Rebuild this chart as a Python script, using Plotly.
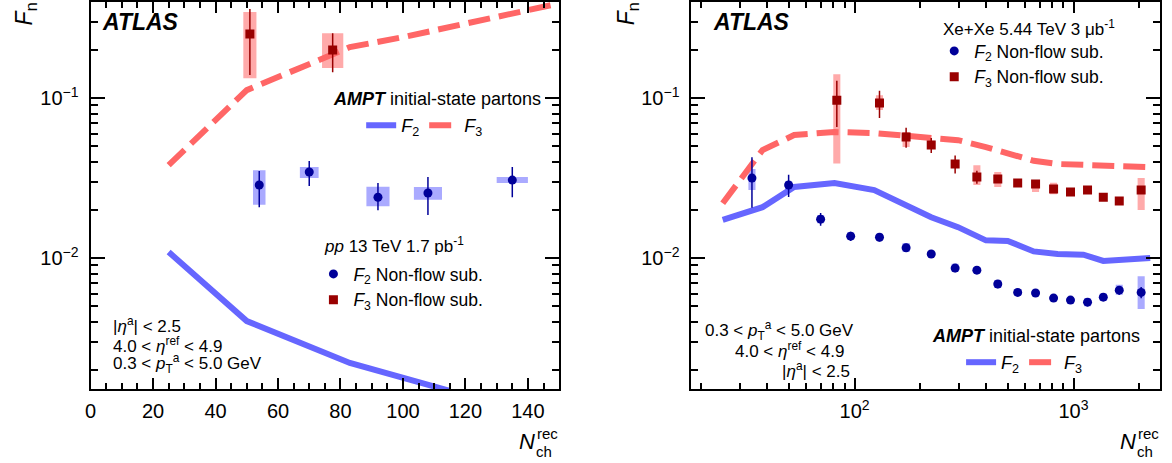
import numpy as np
import plotly.graph_objects as go

W, H = 1172, 463

# ---------------- data: left panel (pp 13 TeV) ----------------
pp_f2_x = [54, 70, 92, 108, 135]
pp_f2_y = [0.0286, 0.0345, 0.0240, 0.0255, 0.0307]
pp_f2_stat_up = [0.0064, 0.0059, 0.0054, 0.0066, 0.0063]
pp_f2_stat_dn = [0.0078, 0.0063, 0.0041, 0.0069, 0.0067]
pp_f2_sys_lo = [0.0215, 0.0316, 0.0211, 0.0231, 0.0294]
pp_f2_sys_hi = [0.0354, 0.0370, 0.0279, 0.0278, 0.0321]
pp_f2_binhalf = [2.0, 3.0, 3.7, 4.5, 5.0]

pp_f3_x = [51, 77.5]
pp_f3_y = [0.251, 0.1995]
pp_f3_stat_up = [0.109, 0.0545]
pp_f3_stat_dn = [0.112, 0.0545]
pp_f3_sys_lo = [0.133, 0.154]
pp_f3_sys_hi = [0.345, 0.254]
pp_f3_binhalf = [2.1, 3.4]

ampt_pp_x = [25, 50, 83, 115]
ampt_pp_f2 = [0.0109, 0.00404, 0.00221, 0.00148]
ampt_pp_f3_x = [25, 50, 83, 100, 150]
ampt_pp_f3 = [0.0381, 0.112, 0.208, 0.240, 0.390]

# ---------------- data: right panel (Xe+Xe 5.44 TeV) ----------------
xe_f2_x = [34, 50, 70, 96, 130, 172, 224, 288, 362, 451, 556, 671, 811, 969, 1159, 1368, 1618, 2037]
xe_f2_y = [0.0316, 0.0286, 0.0175, 0.0137, 0.0135, 0.0116, 0.0106, 0.00866, 0.0084, 0.00688,
           0.0061, 0.00605, 0.00562, 0.00546, 0.0053, 0.0057, 0.0063, 0.0061]
xe_f2_stat = [0.011, 0.0045, 0.0016, 0.0009, 0.0008, 0.0007, 0.0005, 0.0005, 0.0004, 0.0004,
              0.0003, 0.0003, 0.0003, 0.0003, 0.0003, 0.0003, 0.0004, 0.0005]
xe_f2_sys_lo = [0.0266, 0.0270, 0.0165, 0.0130, 0.0129, 0.0109, 0.0102, 0.0082, 0.0080, 0.0065,
                0.0058, 0.0058, 0.0054, 0.0052, 0.0050, 0.0054, 0.0059, 0.0048]
xe_f2_sys_hi = [0.0360, 0.0302, 0.0186, 0.0145, 0.0142, 0.0124, 0.0110, 0.0092, 0.0088, 0.0073,
                0.0064, 0.0063, 0.0059, 0.0057, 0.0056, 0.0060, 0.0068, 0.0077]

xe_f3_x = [83, 130, 172, 224, 288, 362, 451, 556, 671, 811, 969, 1159, 1368, 1618, 2037]
xe_f3_y = [0.097, 0.093, 0.0571, 0.0508, 0.0387, 0.0321, 0.0312, 0.0294, 0.029, 0.027,
           0.0259, 0.0266, 0.024, 0.0227, 0.0266]
xe_f3_stat = [0.031, 0.018, 0.0082, 0.0055, 0.005, 0.003, 0.0015, 0.0012, 0.0012, 0.0012,
              0.0012, 0.0012, 0.0012, 0.0012, 0.0015]
xe_f3_sys_lo = [0.039, 0.0843, 0.0494, 0.048, 0.0365, 0.0286, 0.0278, 0.0285, 0.0259, 0.025,
                0.025, 0.0256, 0.023, 0.022, 0.020]
xe_f3_sys_hi = [0.141, 0.104, 0.0613, 0.054, 0.041, 0.038, 0.0345, 0.0305, 0.0307, 0.0295,
                0.0268, 0.0276, 0.025, 0.0235, 0.0316]

ampt_xe_x = [25, 38, 53, 81, 123, 224, 297, 398, 501, 658, 846, 1110, 1368, 2240]
ampt_xe_f2 = [0.0173, 0.0208, 0.0278, 0.0294, 0.0266, 0.0180, 0.0156, 0.0129, 0.0128, 0.0110,
              0.0106, 0.0105, 0.0096, 0.0100]
ampt_xe_f3 = [0.022, 0.0473, 0.0587, 0.0613, 0.0604, 0.0570, 0.0545, 0.0494, 0.0455, 0.0405,
              0.0387, 0.0380, 0.0378, 0.0370]

# ---------------- styles ----------------
FONT = "Liberation Sans"
C_F2 = "#000099"
C_F3 = "#990000"
C_F2_BOX = "#aaaaff"
C_F3_BOX = "#ffaaaa"
C_F2_LINE = "#6666ff"
C_F3_LINE = "#ff6666"
DASH = "22px,9px"


def boxes_lin(x, hw, lo, hi):
    xs, ys = [], []
    for xi, h, l, u in zip(x, hw, lo, hi):
        xs += [xi - h, xi + h, xi + h, xi - h, xi - h, None]
        ys += [l, l, u, u, l, None]
    return xs, ys


def boxes_log(x, frac, lo, hi):
    xs, ys = [], []
    for xi, l, u in zip(x, lo, hi):
        xs += [xi / frac, xi * frac, xi * frac, xi / frac, xi / frac, None]
        ys += [l, l, u, u, l, None]
    return xs, ys


fig = go.Figure()

# ---- left panel ----
bx, by = boxes_lin(pp_f2_x, pp_f2_binhalf, pp_f2_sys_lo, pp_f2_sys_hi)
fig.add_trace(go.Scatter(x=bx, y=by, fill="toself", fillcolor=C_F2_BOX, mode="none",
                         showlegend=False, hoverinfo="skip", xaxis="x", yaxis="y"))
bx, by = boxes_lin(pp_f3_x, pp_f3_binhalf, pp_f3_sys_lo, pp_f3_sys_hi)
fig.add_trace(go.Scatter(x=bx, y=by, fill="toself", fillcolor=C_F3_BOX, mode="none",
                         showlegend=False, hoverinfo="skip", xaxis="x", yaxis="y"))
fig.add_trace(go.Scatter(x=ampt_pp_x, y=ampt_pp_f2, mode="lines",
                         line=dict(color=C_F2_LINE, width=6),
                         name="<i>F</i><sub>2</sub>", legend="legend2", xaxis="x", yaxis="y"))
fig.add_trace(go.Scatter(x=ampt_pp_f3_x, y=ampt_pp_f3, mode="lines",
                         line=dict(color=C_F3_LINE, width=6, dash=DASH),
                         name="<i>F</i><sub>3</sub>", legend="legend2", xaxis="x", yaxis="y"))
fig.add_trace(go.Scatter(x=pp_f2_x, y=pp_f2_y, mode="markers",
                         marker=dict(color=C_F2, size=9, symbol="circle"),
                         error_y=dict(type="data", symmetric=False, array=pp_f2_stat_up,
                                      arrayminus=pp_f2_stat_dn, color=C_F2, thickness=1.5, width=0),
                         name="<i>F</i><sub>2</sub> Non-flow sub.", legend="legend",
                         xaxis="x", yaxis="y"))
fig.add_trace(go.Scatter(x=pp_f3_x, y=pp_f3_y, mode="markers",
                         marker=dict(color=C_F3, size=9, symbol="square"),
                         error_y=dict(type="data", symmetric=False, array=pp_f3_stat_up,
                                      arrayminus=pp_f3_stat_dn, color=C_F3, thickness=1.5, width=0),
                         name="<i>F</i><sub>3</sub> Non-flow sub.", legend="legend",
                         xaxis="x", yaxis="y"))

# ---- right panel ----
BOXF = 1.038
bx, by = boxes_log(xe_f2_x, BOXF, xe_f2_sys_lo, xe_f2_sys_hi)
fig.add_trace(go.Scatter(x=bx, y=by, fill="toself", fillcolor=C_F2_BOX, mode="none",
                         showlegend=False, hoverinfo="skip", xaxis="x2", yaxis="y2"))
bx, by = boxes_log(xe_f3_x, BOXF, xe_f3_sys_lo, xe_f3_sys_hi)
fig.add_trace(go.Scatter(x=bx, y=by, fill="toself", fillcolor=C_F3_BOX, mode="none",
                         showlegend=False, hoverinfo="skip", xaxis="x2", yaxis="y2"))
fig.add_trace(go.Scatter(x=ampt_xe_x, y=ampt_xe_f2, mode="lines",
                         line=dict(color=C_F2_LINE, width=6),
                         name="<i>F</i><sub>2</sub>", legend="legend4", xaxis="x2", yaxis="y2"))
fig.add_trace(go.Scatter(x=ampt_xe_x, y=ampt_xe_f3, mode="lines",
                         line=dict(color=C_F3_LINE, width=6, dash=DASH),
                         name="<i>F</i><sub>3</sub>", legend="legend4", xaxis="x2", yaxis="y2"))
fig.add_trace(go.Scatter(x=xe_f2_x, y=xe_f2_y, mode="markers",
                         marker=dict(color=C_F2, size=9, symbol="circle"),
                         error_y=dict(type="data", array=xe_f2_stat, color=C_F2, thickness=1.5, width=0),
                         name="<i>F</i><sub>2</sub> Non-flow sub.", legend="legend3",
                         xaxis="x2", yaxis="y2"))
fig.add_trace(go.Scatter(x=xe_f3_x, y=xe_f3_y, mode="markers",
                         marker=dict(color=C_F3, size=9, symbol="square"),
                         error_y=dict(type="data", array=xe_f3_stat, color=C_F3, thickness=1.5, width=0),
                         name="<i>F</i><sub>3</sub> Non-flow sub.", legend="legend3",
                         xaxis="x2", yaxis="y2"))


def px(x):
    return x / W


def py(y):
    return 1 - y / H


y_range = [np.log10(0.00152), np.log10(0.398)]
y_minor = [m * 10.0 ** e for e in (-3, -2, -1) for m in range(2, 10)]
x2_minor = [m * 10.0 ** e for e in (1, 2, 3) for m in range(2, 10)]

axis_common = dict(showline=True, linecolor="black", linewidth=2, mirror="ticks",
                   ticks="inside", tickcolor="black", tickwidth=1.5, showgrid=False,
                   zeroline=False, tickfont=dict(family=FONT, size=20, color="black"))

yaxis_common = dict(type="log", range=y_range, tickmode="array", tickvals=[0.01, 0.1],
                    ticktext=["10<sup>\u22122</sup>", "10<sup>\u22121</sup>"], ticklen=14,
                    ticklabelstandoff=6,
                    minor=dict(tickmode="array", tickvals=y_minor, ticks="inside", ticklen=7,
                               tickcolor="black", tickwidth=1.5, showgrid=False),
                    **axis_common)


def legend_style(size):
    return dict(bgcolor="rgba(0,0,0,0)", font=dict(family=FONT, size=size, color="black"),
                borderwidth=0)


fig.update_layout(
    width=W, height=H, margin=dict(l=0, r=0, t=0, b=0),
    paper_bgcolor="white", plot_bgcolor="white",
    xaxis=dict(domain=[px(85), px(556)], range=[0, 150], tick0=0, dtick=20, ticklen=11,
               ticklabelstandoff=3, anchor="y",
               minor=dict(dtick=5, ticks="inside", ticklen=6, tickcolor="black", tickwidth=1.5,
                          showgrid=False),
               **axis_common),
    yaxis=dict(domain=[py(389), py(2)], anchor="x", **yaxis_common),
    xaxis2=dict(domain=[px(689), px(1160)], type="log", range=[np.log10(18), np.log10(2485)],
                tickmode="array", tickvals=[100, 1000],
                ticktext=["10<sup>2</sup>", "10<sup>3</sup>"], ticklen=11, ticklabelstandoff=3,
                anchor="y2",
                minor=dict(tickmode="array", tickvals=x2_minor, ticks="inside", ticklen=6,
                           tickcolor="black", tickwidth=1.5, showgrid=False),
                **axis_common),
    yaxis2=dict(domain=[py(389), py(2)], anchor="x2", **yaxis_common),
    legend=dict(x=px(309), y=py(256), xanchor="left", yanchor="top",
                tracegroupgap=0, **legend_style(17.5)),
    legend2=dict(x=px(357), y=py(107), xanchor="left", yanchor="top", orientation="h",
                 **legend_style(18)),
    legend3=dict(x=px(933), y=py(33), xanchor="left", yanchor="top",
                 **legend_style(17.5)),
    legend4=dict(x=px(960), y=py(344), xanchor="left", yanchor="top", orientation="h",
                 **legend_style(18)),
)

ann = []


def add_text(text, x, y, size=18, xanchor="left", yanchor="middle", angle=0):
    ann.append(dict(text=text, x=px(x), y=py(y), xref="paper", yref="paper",
                    xanchor=xanchor, yanchor=yanchor, showarrow=False, textangle=angle,
                    font=dict(family=FONT, size=size, color="black")))


# ATLAS labels
add_text("<b><i>ATLAS</i></b>", 94, 22, size=23)
add_text("<b><i>ATLAS</i></b>", 709, 22, size=23)

# legend headers
add_text("<i>pp</i> 13 TeV 1.7 pb<sup>-1</sup>", 318, 245, size=17)
add_text("Xe+Xe 5.44 TeV 3 \u03bcb<sup>-1</sup>", 940, 28, size=17)
add_text("<b><i>AMPT</i></b> initial-state partons", 540, 99, xanchor="right")
add_text("<b><i>AMPT</i></b> initial-state partons", 1142, 336, xanchor="right")

# kinematic texts left
add_text("|<i>\u03b7</i><sup>a</sup>| < 2.5", 106, 325, size=17)
add_text("4.0 < <i>\u03b7</i><sup>ref</sup> < 4.9", 106, 345, size=17)
add_text("0.3 < <i>p</i><sub>T</sub><sup>a</sup> < 5.0 GeV", 106, 363, size=17)
# kinematic texts right
add_text("0.3 < <i>p</i><sub>T</sub><sup>a</sup> < 5.0 GeV", 854, 330, size=17, xanchor="right")
add_text("4.0 < <i>\u03b7</i><sup>ref</sup> < 4.9", 844, 350, size=17, xanchor="right")
add_text("|<i>\u03b7</i><sup>a</sup>| < 2.5", 850, 370, size=17, xanchor="right")

# axis titles
for xl in (12, 617):
    add_text("<i>F</i><sub>n</sub>", xl + 8, 0, size=23, xanchor="center", yanchor="top", angle=-90)
for xr in (556, 1160):
    add_text("<i>N</i>", xr - 22, 441, size=22, xanchor="right")
    add_text("rec", xr + 1, 433, size=15, xanchor="right")
    add_text("ch", xr - 5, 451, size=15, xanchor="right")

fig.update_layout(annotations=ann)

fig.write_html("out.html", config={"displayModeBar": False},
               post_script="document.body.style.margin='0px';document.body.style.overflow='hidden';")
